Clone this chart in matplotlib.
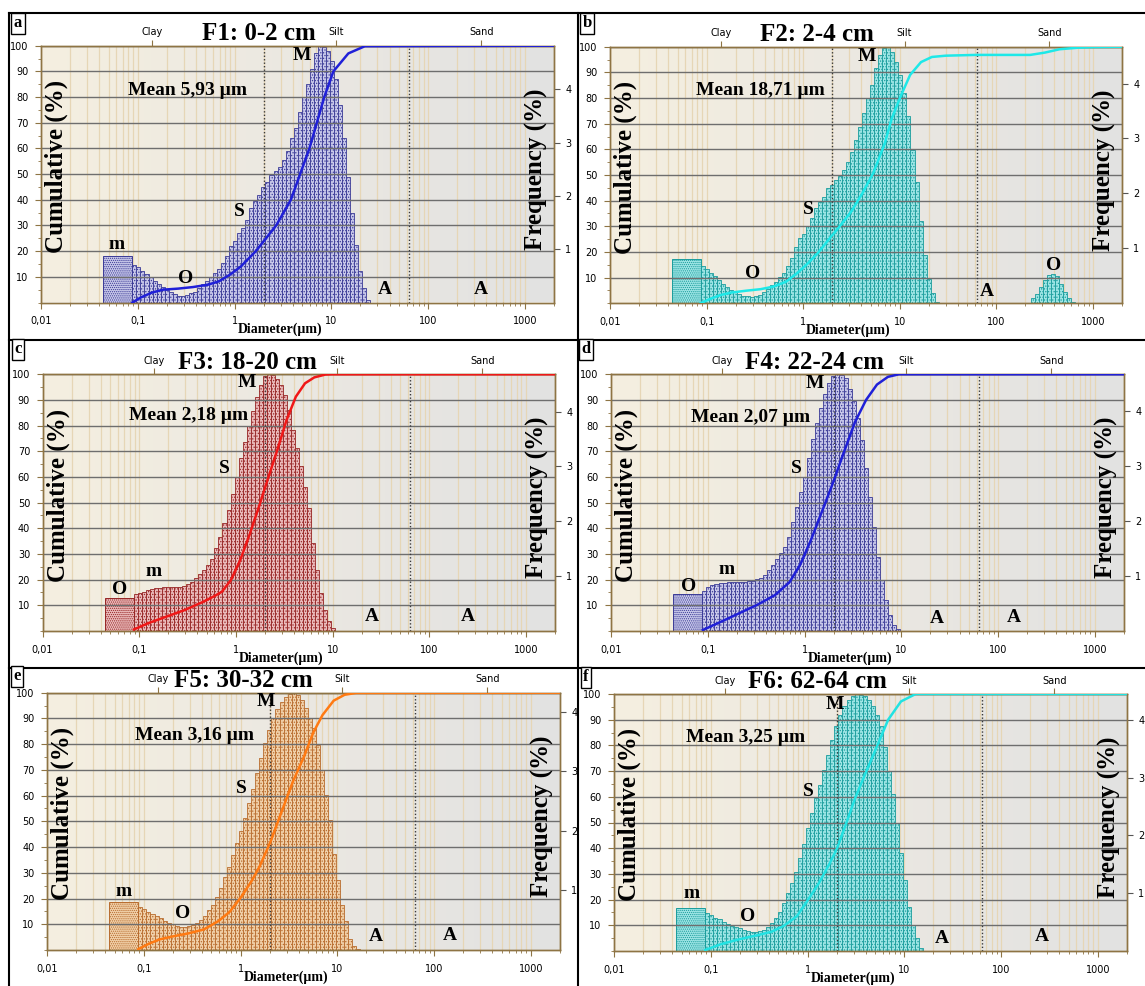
import numpy as np
import matplotlib.pyplot as plt
from matplotlib.lines import Line2D
from matplotlib.colors import LinearSegmentedColormap
from matplotlib.ticker import MultipleLocator, NullLocator

plt.rcParams['font.family'] = 'DejaVu Sans'
plt.rcParams['hatch.linewidth'] = 0.6

W, H = 1145, 986
SERIF = 'Liberation Serif'

# size classes of the analyser: one wide class 0.044-0.088 um, then 24 classes per decade
wide_class = [0.044, 0.088]
edges = np.geomspace(0.088, 0.088 * 10 ** (93 / 24), 94)

# ---- frequency (%) per class ----
f1_wide = 0.87
f1_freq = [0.71, 0.67, 0.60, 0.54, 0.48, 0.41, 0.35, 0.29, 0.24, 0.19,
           0.16, 0.13, 0.13, 0.14, 0.17, 0.19, 0.27, 0.34, 0.41, 0.48,
           0.55, 0.63, 0.75, 0.87, 1.06, 1.16, 1.30, 1.40, 1.54, 1.78,
           1.90, 2.02, 2.17, 2.27, 2.39, 2.46, 2.55, 2.68, 2.84, 3.08,
           3.28, 3.57, 3.86, 4.10, 4.39, 4.68, 4.82, 4.80, 4.72, 4.53,
           4.19, 3.71, 3.08, 2.36, 1.68, 1.08, 0.60, 0.27, 0.05]

f2_wide = 0.81
f2_freq = [0.67, 0.62, 0.56, 0.50, 0.42, 0.35, 0.29, 0.24, 0.20, 0.17,
           0.14, 0.14, 0.12, 0.14, 0.16, 0.20, 0.26, 0.33, 0.39, 0.47,
           0.55, 0.67, 0.82, 1.02, 1.18, 1.27, 1.40, 1.55, 1.73, 1.85,
           1.94, 2.09, 2.15, 2.24, 2.32, 2.42, 2.58, 2.76, 2.98, 3.21,
           3.46, 3.73, 3.97, 4.28, 4.52, 4.64, 4.67, 4.58, 4.40, 4.16,
           3.82, 3.40, 2.79, 2.21, 1.49, 0.88, 0.45, 0.18, 0.03, 0,
           0, 0, 0, 0, 0, 0, 0, 0, 0, 0,
           0, 0, 0, 0, 0, 0, 0, 0, 0, 0,
           0, 0, 0.09, 0.17, 0.29, 0.42, 0.51, 0.53, 0.49, 0.36,
           0.21, 0.09, 0.03]

f3_wide = 0.61
f3_freq = [0.67, 0.70, 0.72, 0.74, 0.76, 0.78, 0.79, 0.80, 0.81, 0.80,
           0.80, 0.81, 0.82, 0.86, 0.90, 0.96, 1.04, 1.12, 1.20, 1.31,
           1.51, 1.72, 1.96, 2.20, 2.50, 2.81, 3.15, 3.45, 3.74, 4.02,
           4.27, 4.48, 4.64, 4.68, 4.67, 4.59, 4.48, 4.31, 4.03, 3.66,
           3.33, 3.00, 2.63, 2.24, 1.60, 1.11, 0.69, 0.38, 0.18, 0.06]

f4_wide = 0.67
f4_freq = [0.73, 0.79, 0.83, 0.85, 0.87, 0.88, 0.89, 0.89, 0.89, 0.89,
           0.89, 0.90, 0.91, 0.94, 0.97, 1.02, 1.10, 1.20, 1.30, 1.41,
           1.53, 1.71, 1.97, 2.26, 2.53, 2.80, 3.14, 3.48, 3.77, 4.04,
           4.30, 4.51, 4.63, 4.66, 4.65, 4.59, 4.40, 4.17, 3.86, 3.47,
           2.95, 2.44, 1.89, 1.35, 0.93, 0.57, 0.29, 0.11, 0.03]

f5_wide = 0.80
f5_freq = [0.73, 0.68, 0.64, 0.60, 0.57, 0.53, 0.49, 0.46, 0.43, 0.41,
           0.39, 0.39, 0.40, 0.42, 0.45, 0.51, 0.57, 0.67, 0.76, 0.89,
           1.04, 1.23, 1.40, 1.59, 1.80, 1.99, 2.21, 2.46, 2.71, 2.97,
           3.22, 3.47, 3.69, 3.89, 4.04, 4.17, 4.25, 4.30, 4.32, 4.28,
           4.20, 4.06, 3.89, 3.72, 3.44, 3.02, 2.60, 2.18, 1.62, 1.18,
           0.76, 0.48, 0.19, 0.07, 0.02]

f6_wide = 0.74
f6_freq = [0.66, 0.62, 0.58, 0.55, 0.51, 0.47, 0.43, 0.41, 0.39, 0.36,
           0.34, 0.33, 0.33, 0.35, 0.37, 0.42, 0.49, 0.58, 0.68, 0.83,
           1.00, 1.17, 1.36, 1.61, 1.86, 2.13, 2.39, 2.65, 2.88, 3.14,
           3.40, 3.66, 3.89, 4.09, 4.24, 4.35, 4.42, 4.45, 4.44, 4.42,
           4.35, 4.24, 4.09, 3.89, 3.54, 3.11, 2.71, 2.21, 1.70, 1.23,
           0.77, 0.45, 0.22, 0.06]

# ---- cumulative curves (diameter um, cumulative %) ----
f1_cum_d = [0.088, 0.108, 0.141, 0.183, 0.26, 0.37, 0.527, 0.686, 0.893, 1.16,
            1.66, 2.69, 3.82, 4.76, 5.94, 7.08, 8.45, 10.5, 15.0, 22.2, 2000]
f1_cum = [0, 2.0, 3.9, 5.0, 5.4, 6.0, 6.9, 8.2, 10.8, 14.0,
          20, 30, 40, 50, 60, 70, 80, 90, 97, 99.8, 100]

f2_cum_d = [0.0863, 0.107, 0.139, 0.181, 0.256, 0.362, 0.491, 0.665, 0.863, 1.12,
            1.45, 1.88, 2.45, 3.18, 4.12, 5.35, 6.95, 8.26, 10.3, 12.8,
            16.6, 21.5, 30, 61, 224, 318, 450, 695, 982, 2000]
f2_cum = [0, 1.6, 3.2, 4.2, 4.9, 5.5, 6.5, 8.4, 11.7, 15.6,
          20.0, 25.3, 30.5, 36, 43, 51, 62, 72, 81, 89,
          94, 96, 96.5, 96.8, 96.8, 97.7, 99.0, 99.6, 99.8, 100]

f3_cum_d = [0.088, 0.123, 0.191, 0.297, 0.46, 0.6, 0.716, 0.89, 1.11, 1.38,
            1.73, 2.15, 2.68, 3.34, 4.17, 5.19, 6.47, 8.42, 10.0, 2000]
f3_cum = [0.6, 3.0, 5.6, 8.2, 11.4, 13.6, 15.3, 19.9, 27.7, 37.4,
          48.4, 59.5, 70.5, 82.2, 91.3, 96.5, 98.8, 99.9, 100, 100]

f4_cum_d = [0.0889, 0.135, 0.208, 0.321, 0.495, 0.699, 0.907, 1.18, 1.53, 1.98,
            2.57, 3.33, 4.32, 5.6, 7.27, 9.42, 2000]
f4_cum = [0.4, 3.5, 6.8, 10.1, 14.0, 19.0, 26.0, 36.0, 47.0, 58.0,
          70.0, 81.5, 90.0, 96.0, 99.0, 100, 100]

f5_cum_d = [0.0876, 0.111, 0.145, 0.206, 0.293, 0.418, 0.594, 0.774, 1.01, 1.32,
            1.57, 2.04, 2.66, 3.47, 4.52, 5.64, 7.03, 9.16, 11.9, 15.6, 2000]
f5_cum = [0.3, 2.3, 4.1, 5.4, 6.5, 8.0, 11.3, 14.9, 20.5, 27.2,
          32.4, 42.1, 53.8, 65.4, 75.1, 84.5, 91.3, 96.9, 99.2, 99.9, 100]

f6_cum_d = [0.0875, 0.126, 0.194, 0.3, 0.425, 0.575, 0.778, 1.01, 1.31, 1.70,
            2.02, 2.51, 3.12, 4.05, 5.25, 6.81, 9.23, 13.1, 2000]
f6_cum = [0.4, 2.6, 4.5, 6.1, 7.5, 9.9, 13.6, 19.9, 26.4, 34.2,
          40.0, 49.7, 59.7, 69.9, 79.9, 90.0, 97.1, 100, 100]

titles = ["F1: 0-2 cm", "F2: 2-4 cm", "F3: 18-20 cm", "F4: 22-24 cm", "F5: 30-32 cm", "F6: 62-64 cm"]
letters = ["a", "b", "c", "d", "e", "f"]
classes = ["Clay", "Silt", "Sand"]
class_mid = [0.141, 11.2, 355]
class_limits = [2, 63]
xticks = [0.01, 0.1, 1, 10, 100, 1000]
xticklabels = ["0,01", "0,1", "1", "10", "100", "1000"]

freqs = [f1_freq, f2_freq, f3_freq, f4_freq, f5_freq, f6_freq]
wides = [f1_wide, f2_wide, f3_wide, f4_wide, f5_wide, f6_wide]
cum_ds = [f1_cum_d, f2_cum_d, f3_cum_d, f4_cum_d, f5_cum_d, f6_cum_d]
cums = [f1_cum, f2_cum, f3_cum, f4_cum, f5_cum, f6_cum]

# layout (pixels: left, top, right, bottom of the plot area)
boxes = [(41, 45.7, 554, 302.5), (610, 46.7, 1122, 303.3),
         (42.6, 374.3, 555, 631), (611, 374.3, 1124, 631),
         (47, 692.7, 560, 950), (614, 694, 1127, 951)]
title_x = [0.425, 0.404, 0.399, 0.396, 0.382, 0.396]
letter_xy = [(18, 23), (587, 23), (18, 349), (586, 349), (17, 676), (586, 677)]

# text marks: (text, diameter, cumulative %)
notes = [
    [("M", 4.98, 96), ("Mean 5,93 µm", 0.324, 82.7), ("S", 1.11, 35.4), ("m", 0.06, 22.4),
     ("O", 0.31, 9.5), ("A", 35.5, 5), ("A", 355, 5)],
    [("M", 4.61, 96.1), ("Mean 18,71 µm", 0.362, 83.1), ("S", 1.12, 36.4), ("O", 0.299, 11.7),
     ("A", 79, 4.5), ("O", 395, 14.9)],
    [("M", 1.30, 96.8), ("Mean 2,18 µm", 0.324, 83.8), ("S", 0.768, 63.4), ("m", 0.14, 23.1),
     ("O", 0.062, 16.2), ("A", 25.3, 5.6), ("A", 250, 5.8)],
    [("M", 1.28, 96.5), ("Mean 2,07 µm", 0.274, 83.2), ("S", 0.818, 63.4), ("m", 0.157, 23.8),
     ("O", 0.0629, 17.3), ("A", 23.4, 4.9), ("A", 145, 5.3)],
    [("M", 1.82, 96.5), ("Mean 3,16 µm", 0.335, 83.2), ("S", 1.01, 62.8), ("m", 0.0615, 22.9),
     ("O", 0.25, 14), ("A", 24.8, 5.4), ("A", 147, 5.8)],
    [("M", 1.9, 95.8), ("Mean 3,25 µm", 0.227, 83.1), ("S", 1.01, 62), ("m", 0.063, 22.5),
     ("O", 0.241, 13.6), ("A", 24.6, 4.9), ("A", 261, 5.6)],
]

bar_edge = ['#3a3a96', '#1a9c9c', '#962424', '#3a3a96', '#b86c2e', '#1a9c9c']
bar_fill = ['#c9c9ea', '#9fe6e6', '#ebbcbc', '#c9c9ea', '#f1d1aa', '#9fe6e6']
curve_col = ['#2020d8', '#1ee8e8', '#f01818', '#2020d8', '#ff7a12', '#22e2e2']

brown = '#8e7444'
bg_cmap = LinearSegmentedColormap.from_list('bg', ['#f5efe0', '#ebe8e2', '#e2e2e1'])

fig = plt.figure(figsize=(W / 100, H / 100), dpi=100)


def fig_pos(l, t, r, b):
    return [l / W, 1 - b / H, (r - l) / W, (b - t) / H]


for k in range(6):
    pos = fig_pos(*boxes[k])

    bg = fig.add_axes(pos, zorder=0)
    bg.imshow(np.linspace(0, 1, 256).reshape(1, -1), aspect='auto', cmap=bg_cmap, extent=[0, 1, 0, 1])
    bg.axis('off')

    ax = fig.add_axes(pos, zorder=1)
    ax.patch.set_visible(False)
    ax.set_xscale('log')
    ax.set_xlim(0.01, 2000)
    ax.set_axisbelow(True)

    freq = np.array(freqs[k])
    ax.bar(edges[:len(freq)], freq, width=np.diff(edges)[:len(freq)], align='edge',
           facecolor=bar_fill[k], edgecolor=bar_edge[k], linewidth=0.6, hatch='......')
    ax.bar(wide_class[0], wides[k], width=wide_class[1] - wide_class[0], align='edge',
           facecolor=bar_fill[k], edgecolor=bar_edge[k], linewidth=0.7, hatch='........')
    ax.set_ylim(0, freq.max())
    ax.grid(which='both', axis='x', color='#e6d6b6', linewidth=0.9)

    axc = ax.twinx()
    ax.yaxis.tick_right()
    axc.yaxis.tick_left()
    axc.set_ylim(0, 100)
    axc.set_yticks(range(10, 101, 10))
    axc.yaxis.set_minor_locator(MultipleLocator(5))
    axc.grid(axis='y', color='#6e6e6e', linewidth=1.0)
    for lim in class_limits:
        axc.axvline(lim, color='#3a3a3a', linestyle=(0, (1, 1.5)), linewidth=1.0)
    axc.plot(cum_ds[k], cums[k], color=curve_col[k], linewidth=1.8, zorder=5)

    for txt, d, v in notes[k]:
        axc.text(d, v, txt, fontsize=14, fontweight='bold', family=SERIF,
                 ha='center', va='center', zorder=6)

    ax.set_xticks(xticks)
    ax.set_xticklabels(xticklabels)
    ax.set_yticks([1, 2, 3, 4])
    ax.set_yticklabels(['1', '2', '3', '4'])
    ax.tick_params(axis='x', which='major', length=4, color=brown, labelsize=7, pad=6)
    ax.tick_params(axis='x', which='minor', length=2.5, color=brown)
    ax.tick_params(axis='y', which='both', length=4, color='#555555', labelsize=7, pad=4,
                   right=True, left=False, labelright=True, labelleft=False)
    axc.tick_params(axis='y', which='major', length=4, color=brown, labelsize=7, pad=5)
    axc.tick_params(axis='y', which='minor', length=2, color=brown)
    for a in (ax, axc):
        for s in a.spines.values():
            s.set_color(brown)
            s.set_linewidth(1.0)

    sec = ax.secondary_xaxis('top')
    sec.set_xticks(class_mid)
    sec.set_xticklabels(classes)
    sec.xaxis.set_minor_locator(NullLocator())
    sec.tick_params(axis='x', length=4, color=brown, labelsize=7, pad=2)
    sec.spines['top'].set_visible(False)

    axc.text(title_x[k], 1.047, titles[k], transform=axc.transAxes, fontsize=18,
             fontweight='bold', family=SERIF, ha='center', va='center', zorder=7)
    axc.text(0.03, 0.53, 'Cumulative (%)', transform=axc.transAxes, rotation=90,
             fontsize=18, fontweight='bold', family=SERIF, ha='center', va='center')
    axc.text(0.965, 0.52, 'Frequency (%)', transform=axc.transAxes, rotation=90,
             fontsize=18, fontweight='bold', family=SERIF, ha='center', va='center')
    axc.text(0.466, -0.105, 'Diameter(µm)', transform=axc.transAxes, fontsize=10,
             fontweight='bold', family=SERIF, ha='center', va='center')

    lx, ly = letter_xy[k]
    fig.text(lx / W, 1 - ly / H, letters[k], fontsize=12, fontweight='bold', family=SERIF,
             ha='center', va='center',
             bbox=dict(boxstyle='square,pad=0.15', facecolor='white', edgecolor='black', linewidth=1))

# panel frames
frame = [((8.5, 12.5), (1145, 12.5)), ((8.5, 12.5), (8.5, 986)),
         ((577.5, 12.5), (577.5, 986)), ((8.5, 340.5), (1145, 340.5)), ((8.5, 668), (1145, 668))]
for (x0, y0), (x1, y1) in frame:
    fig.add_artist(Line2D([x0 / W, x1 / W], [1 - y0 / H, 1 - y1 / H], transform=fig.transFigure,
                          color='black', linewidth=1.5))

fig.savefig('out.png', dpi=100)
